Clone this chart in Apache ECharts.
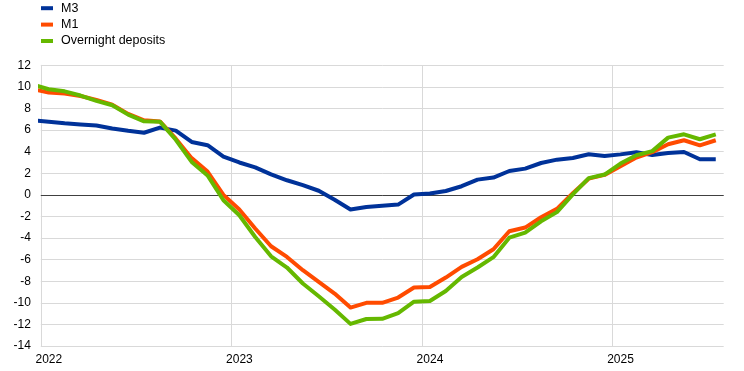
<!DOCTYPE html>
<html>
<head>
<meta charset="utf-8">
<script src="https://cdn.jsdelivr.net/npm/echarts@6/dist/echarts.min.js"></script>
<style>
html,body{margin:0;padding:0;background:#fff;}
#c{width:744px;height:371px;}
</style>
</head>
<body>
<div id="c"></div>
<script>
// Monthly observations (first one is clipped at the left edge of the plot)
var months = ['2021-12',
  '2022-01','2022-02','2022-03','2022-04','2022-05','2022-06','2022-07','2022-08','2022-09','2022-10','2022-11','2022-12',
  '2023-01','2023-02','2023-03','2023-04','2023-05','2023-06','2023-07','2023-08','2023-09','2023-10','2023-11','2023-12',
  '2024-01','2024-02','2024-03','2024-04','2024-05','2024-06','2024-07','2024-08','2024-09','2024-10','2024-11','2024-12',
  '2025-01','2025-02','2025-03','2025-04','2025-05','2025-06','2025-07'];

var m3 = [6.9,
  6.78,6.63,6.52,6.42,6.15,5.93,5.75,6.23,5.95,4.9,4.6,3.55,
  3.0,2.55,1.9,1.35,0.9,0.38,-0.45,-1.35,-1.12,-1.0,-0.9,0.03,
  0.12,0.36,0.8,1.41,1.6,2.21,2.43,2.95,3.26,3.42,3.76,3.6,
  3.75,3.95,3.7,3.88,3.97,3.3,3.3];

var m1 = [9.8,
  9.47,9.38,9.15,8.8,8.35,7.5,6.9,6.8,5.2,3.4,2.15,0.0,
  -1.36,-3.12,-4.76,-5.75,-6.98,-8.06,-9.14,-10.44,-10.0,-10.0,-9.51,-8.58,
  -8.53,-7.66,-6.67,-5.96,-5.04,-3.37,-3.03,-2.07,-1.3,0.15,1.5,1.85,
  2.65,3.45,3.95,4.69,5.06,4.59,5.06];

var overnight = [10.2,
  9.78,9.59,9.2,8.7,8.3,7.43,6.81,6.78,5.1,3.05,1.8,-0.5,
  -1.89,-3.9,-5.69,-6.73,-8.21,-9.39,-10.62,-11.95,-11.5,-11.48,-10.95,-9.9,
  -9.83,-8.9,-7.6,-6.73,-5.77,-3.97,-3.5,-2.45,-1.6,0.05,1.55,1.88,
  2.9,3.67,4.05,5.3,5.61,5.15,5.61];

var yearLabels = ['2022','2023','2024','2025'];
var seriesNames = ['M3','M1','Overnight deposits'];

var startYear = 2022;
function monthPos(s){
  var p = s.split('-');
  return (parseInt(p[0],10) - startYear) * 12 + (parseInt(p[1],10) - 1) + 0.5;
}
function pairs(vals){
  return vals.map(function(v,i){ return [monthPos(months[i]), v]; });
}

var chart = echarts.init(document.getElementById('c'), null, {renderer:'canvas'});
var colors = ['#003299','#ff4b00','#65b800'];
var datasets = [m3, m1, overnight];

var series = datasets.map(function(d, i){
  var s = {
    name: seriesNames[i],
    type: 'line',
    data: pairs(d),
    showSymbol: false,
    symbol: 'none',
    clip: true,
    lineStyle: {width: 4, color: colors[i], join: 'round'},
    itemStyle: {color: colors[i]},
    emphasis: {disabled: true},
    z: 3 + i
  };
  if (i === 0) {
    s.markLine = {
      silent: true,
      symbol: 'none',
      label: {show: false},
      lineStyle: {color: '#404040', width: 1, type: 'solid'},
      data: [{yAxis: 0}],
      z: 1
    };
  }
  return s;
});

chart.setOption({
  animation: false,
  backgroundColor: '#ffffff',
  textStyle: {fontFamily: 'Liberation Sans, Arial, sans-serif'},
  legend: {
    orient: 'vertical',
    left: 41,
    top: 0,
    padding: 0,
    itemGap: 0,
    itemWidth: 12,
    itemHeight: 4,
    icon: 'rect',
    data: seriesNames,
    textStyle: {fontSize: 12.5, color: '#000', lineHeight: 16.4, padding: [0,0,0,3], fontFamily: 'Liberation Sans, Arial, sans-serif'}
  },
  grid: {left: 40.8, right: 20.3, top: 65.3, bottom: 25, containLabel: false},
  xAxis: {
    type: 'value',
    min: 0,
    max: 43,
    interval: 12,
    axisLine: {show: false},
    axisTick: {show: false},
    splitLine: {show: true, showMinLine: true, showMaxLine: false, lineStyle: {color: '#d9d9d9', width: 1}},
    axisLabel: {
      showMaxLabel: false,
      margin: 8,
      fontSize: 12,
      color: '#000',
      padding: [0,0,0,16],
      formatter: function(v){
        if (v % 12 !== 0) return '';
        var k = v / 12;
        return yearLabels[k] || '';
      }
    }
  },
  yAxis: {
    type: 'value',
    min: -14,
    max: 12,
    interval: 2,
    axisLine: {show: true, lineStyle: {color: '#d9d9d9', width: 1}},
    axisTick: {show: false},
    splitLine: {show: true, lineStyle: {color: '#d9d9d9', width: 1}},
    axisLabel: {fontSize: 12, color: '#000', margin: 10}
  },
  series: series
});
</script>
</body>
</html>
